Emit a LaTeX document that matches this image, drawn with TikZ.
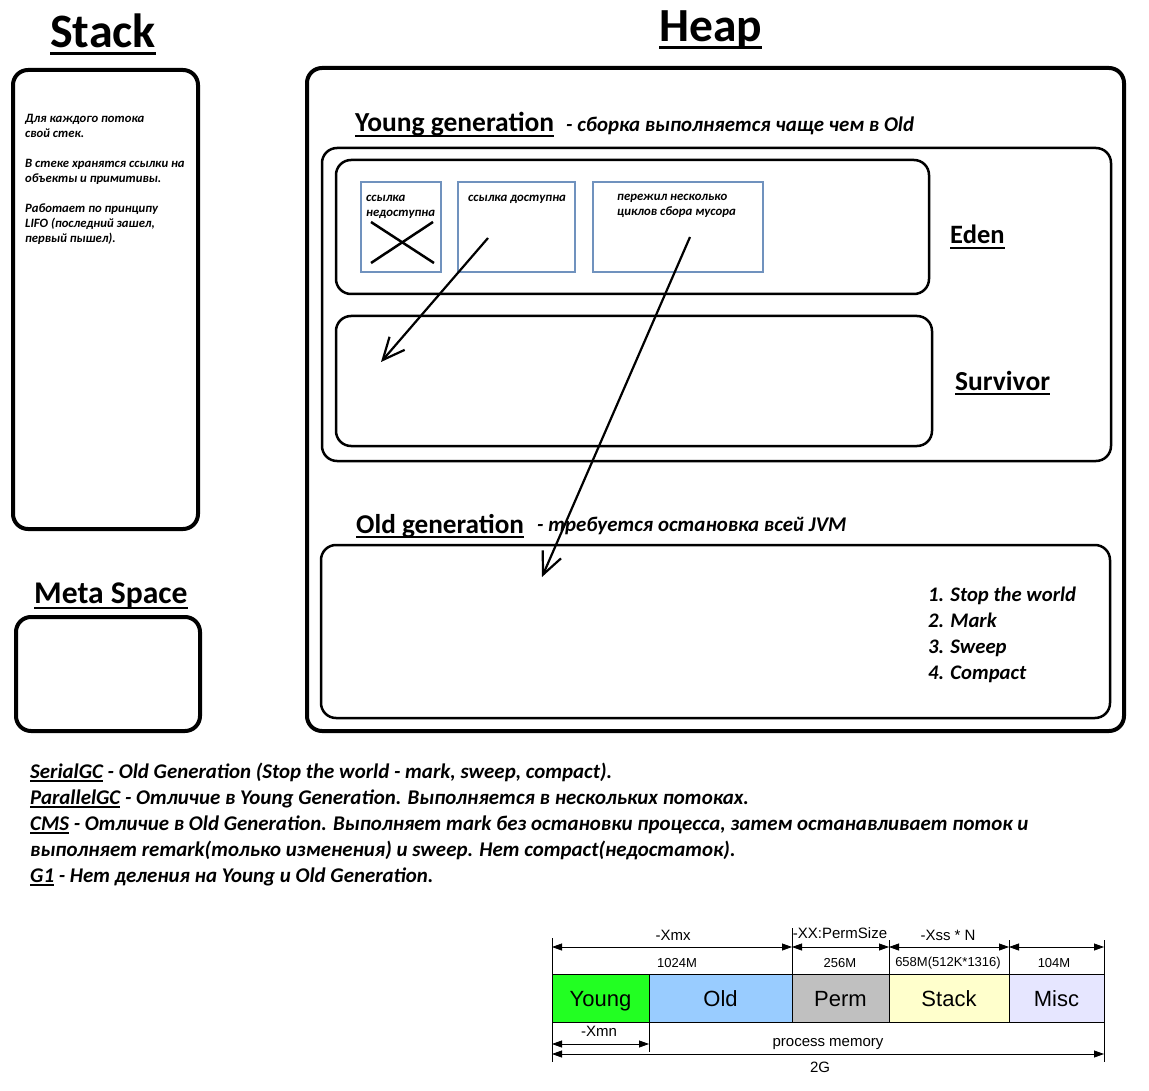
\documentclass[tikz,border=0pt]{standalone}
\usepackage{fontspec}
\setmainfont{Carlito}
\newfontfamily\arialf{Liberation Sans}
\usetikzlibrary{arrows.meta,fit}
\newcommand\fsz[1]{\fontsize{#1}{#1}\selectfont}
\newcommand\fszl[2]{\fontsize{#1}{#2}\selectfont}
\newcommand\ulx[1]{\setbox0\hbox{#1}\rlap{\rule[-3.5pt]{\wd0}{1.8pt}}\box0\relax}
\definecolor{boxblue}{RGB}{112,146,190}
\definecolor{cyoung}{RGB}{34,255,34}
\definecolor{cold}{RGB}{153,204,255}
\definecolor{cperm}{RGB}{192,192,192}
\definecolor{cstack}{RGB}{255,255,204}
\definecolor{cmisc}{RGB}{230,230,255}
\begin{document}
\begin{tikzpicture}[x=1pt,y=-1pt,
  bigbox/.style={draw, line width=4pt, rounded corners=15pt, inner sep=0pt},
  midbox/.style={draw, line width=2.5pt, rounded corners=15pt, inner sep=0pt},
  smallbox/.style={draw=boxblue, line width=2.5pt, inner sep=0pt},
  txt/.style={anchor=base west, inner sep=0pt, font=\bfseries\itshape},
  title/.style={anchor=base west, inner sep=0pt, font=\bfseries},
  gcarrow/.style={line width=2.2pt, -{Straight Barb[length=22pt,width=20pt,line width=2.2pt]}},
  cell/.style={draw, line width=0.6pt, inner sep=0pt, text height=16pt, text depth=0pt, font=\arialf\fsz{22}},
  tlab/.style={inner sep=0pt, font=\arialf\fsz{15}},
  slab/.style={inner sep=0pt, font=\arialf\fsz{13}},
  dim/.style={line width=0.8pt, {Triangle[length=10pt,width=7pt]}-{Triangle[length=10pt,width=7pt]}},
  tline/.style={line width=0.6pt}]
\useasboundingbox (0,0) rectangle (1149,1091);
\fill[white] (0,0) rectangle (1149,1091);

% ---------- Stack ----------
\node[title, font=\bfseries\fsz{48}] (stacktitle) at (50,48) {Stack};
\draw[line width=3pt] ([yshift=-6pt]stacktitle.base west) -- ([yshift=-6pt]stacktitle.base east);
\node[bigbox, fit={(13,70) (198,529)}] (stackbox) {};
\node[txt, font=\bfseries\itshape\fszl{12.7}{15}, align=left, anchor=north west] (stacktext) at (25,114)
 {Для каждого потока\\свой стек.\\[15pt]В стеке хранятся ссылки на\\объекты и примитивы.\\[15pt]Работает по принципу\\LIFO (последний зашел,\\первый пышел).};

% ---------- Meta Space ----------
\node[title, font=\bfseries\fsz{31.6}] (metatitle) at (34,603) {Meta Space};
\draw[line width=2.5pt] ([yshift=-5pt]metatitle.base west) -- ([yshift=-5pt]metatitle.base east);
\node[bigbox, fit={(16,617) (200,731)}] (metabox) {};

% ---------- Heap ----------
\node[title, font=\bfseries\fsz{47.5}] (heaptitle) at (659,42) {Heap};
\draw[line width=3pt] ([yshift=-6pt]heaptitle.base west) -- ([yshift=-6pt]heaptitle.base east);
\node[bigbox, fit={(307,68) (1124,731)}] (heapbox) {};

% Young generation
\node[title, font=\bfseries\fsz{27.5}] (youngtitle) at (355,132) {Young generation};
\draw[line width=2pt] ([yshift=-4pt]youngtitle.base west) -- ([yshift=-4pt]youngtitle.base east);
\node[txt, font=\bfseries\itshape\fsz{20.9}] (youngnote) at (566,132) {- сборка выполняется чаще чем в Old};
\node[midbox, fit={(322,148) (1111,461)}] (youngbox) {};

% Eden
\node[midbox, fit={(336,160) (929,294)}] (edenbox) {};
\node[title, font=\bfseries\fsz{26.5}] (edentitle) at (950,244) {Eden};
\draw[line width=2pt] ([yshift=-4pt]edentitle.base west) -- ([yshift=-4pt]edentitle.base east);

\node[smallbox, fit={(361,182) (441,272)}] (obj1) {};
\node[smallbox, fit={(458,182) (575,272)}] (obj2) {};
\node[smallbox, fit={(593,182) (763,272)}] (obj3) {};
\node[txt, font=\bfseries\itshape\fszl{12.8}{15}, align=left, anchor=north west] (obj1text) at (366,195) {ссылка\\недоступна};
\node[txt, font=\bfseries\itshape\fszl{12.8}{15}, anchor=north west] (obj2text) at (468,195) {ссылка доступна};
\node[txt, font=\bfseries\itshape\fszl{12.8}{15}, align=left, anchor=north west] (obj3text) at (617,194) {пережил несколько\\циклов сбора мусора};
\coordinate (x1a) at (371,222);
\coordinate (x1b) at (434,263);
\coordinate (x2a) at (371,263);
\coordinate (x2b) at (433,222);
\draw[line width=2.5pt] (x1a) -- (x1b);
\draw[line width=2.5pt] (x2a) -- (x2b);

% Survivor
\node[midbox, fit={(336,316) (932,446)}] (survbox) {};
\node[title, font=\bfseries\fsz{27.5}] (survtitle) at (955,390) {Survivor};
\draw[line width=2pt] ([yshift=-4pt]survtitle.base west) -- ([yshift=-4pt]survtitle.base east);

% Old generation
\node[title, font=\bfseries\fsz{27.2}] (oldtitle) at (356,533) {Old generation};
\draw[line width=2pt] ([yshift=-4pt]oldtitle.base west) -- ([yshift=-4pt]oldtitle.base east);
\node[txt, font=\bfseries\itshape\fsz{20.9}] (oldnote) at (537,531) {- требуется остановка всей JVM};
\node[midbox, fit={(321,545) (1110,718)}] (oldbox) {};
\node[txt, font=\bfseries\itshape\fszl{20.7}{26}, align=left, anchor=north west] (steps) at (928,587)
 {1. Stop the world\\2. Mark\\3. Sweep\\4. Compact};

% arrows
\coordinate (a1s) at (488,238);
\coordinate (a1e) at (381,362);
\coordinate (a2s) at (690,237);
\coordinate (a2e) at (542,577);
\draw[gcarrow] (a1s) -- (a1e);
\draw[gcarrow] (a2s) -- (a2e);

% ---------- GC notes ----------
\node[txt, font=\bfseries\itshape\fszl{20.9}{26}, align=left, anchor=north west] (gcnotes) at (30,763)
 {\ulx{SerialGC} - Old Generation (Stop the world - mark, sweep, compact).\\
  \ulx{ParallelGC} - Отличие в Young Generation. Выполняется в нескольких потоках.\\
  \ulx{CMS} - Отличие в Old Generation. Выполняет mark без остановки процесса, затем останавливает поток и\\
  выполняет remark(только изменения) и sweep. Нет compact(недостаток).\\
  \ulx{G1} - Нет деления на Young и Old Generation.};

% ---------- memory table ----------
\node[cell, fill=cyoung, minimum width=97pt, minimum height=48pt] (cyoungn) at (600.5,998) {Young};
\node[cell, fill=cold, minimum width=143pt, minimum height=48pt] (coldn) at (720.5,998) {Old};
\node[cell, fill=cperm, minimum width=97pt, minimum height=48pt] (cpermn) at (840.5,998) {Perm};
\node[cell, fill=cstack, minimum width=120pt, minimum height=48pt] (cstackn) at (949,998) {Stack};
\node[cell, fill=cmisc, minimum width=95pt, minimum height=48pt] (cmiscn) at (1056.5,998) {Misc};

\coordinate (v0t) at (552,938);  \coordinate (v0b) at (552,1062);
\coordinate (v1t) at (649,1022); \coordinate (v1b) at (649,1052);
\coordinate (v2t) at (792,928);  \coordinate (v2b) at (792,974);
\coordinate (v3t) at (889,940);  \coordinate (v3b) at (889,974);
\coordinate (v4t) at (1009,940); \coordinate (v4b) at (1009,974);
\coordinate (v5t) at (1104,940); \coordinate (v5b) at (1104,1062);
\draw[tline] (v0t) -- (v0b);
\draw[tline] (v1t) -- (v1b);
\draw[tline] (v2t) -- (v2b);
\draw[tline] (v3t) -- (v3b);
\draw[tline] (v4t) -- (v4b);
\draw[tline] (v5t) -- (v5b);

\coordinate (d0) at (552,947); \coordinate (d2) at (792,947);
\coordinate (d3) at (889,947); \coordinate (d4) at (1009,947); \coordinate (d5) at (1104,947);
\draw[dim] (d0) -- (d2);
\draw[dim] (d2) -- (d3);
\draw[dim] (d3) -- (d4);
\draw[dim] (d4) -- (d5);
\coordinate (m0) at (552,1044); \coordinate (m1) at (649,1044);
\draw[dim] (m0) -- (m1);
\coordinate (g0) at (552,1054); \coordinate (g5) at (1104,1054);
\draw[dim] (g0) -- (g5);

\node[tlab] (lxmx) at (673,935) {-Xmx};
\node[tlab] (lperm) at (840,933) {-XX:PermSize};
\node[tlab] (lxss) at (948,935) {-Xss * N};
\node[slab] (s1) at (677,963) {1024M};
\node[slab] (s2) at (840,963) {256M};
\node[slab] (s3) at (948,963) {658M(512K*1316)};
\node[slab] (s4) at (1054,963) {104M};
\node[tlab] (lxmn) at (599,1031) {-Xmn};
\node[tlab] (lproc) at (828,1044) {process memory};
\node[tlab] (l2g) at (820,1067) {2G};
\end{tikzpicture}
\end{document}
